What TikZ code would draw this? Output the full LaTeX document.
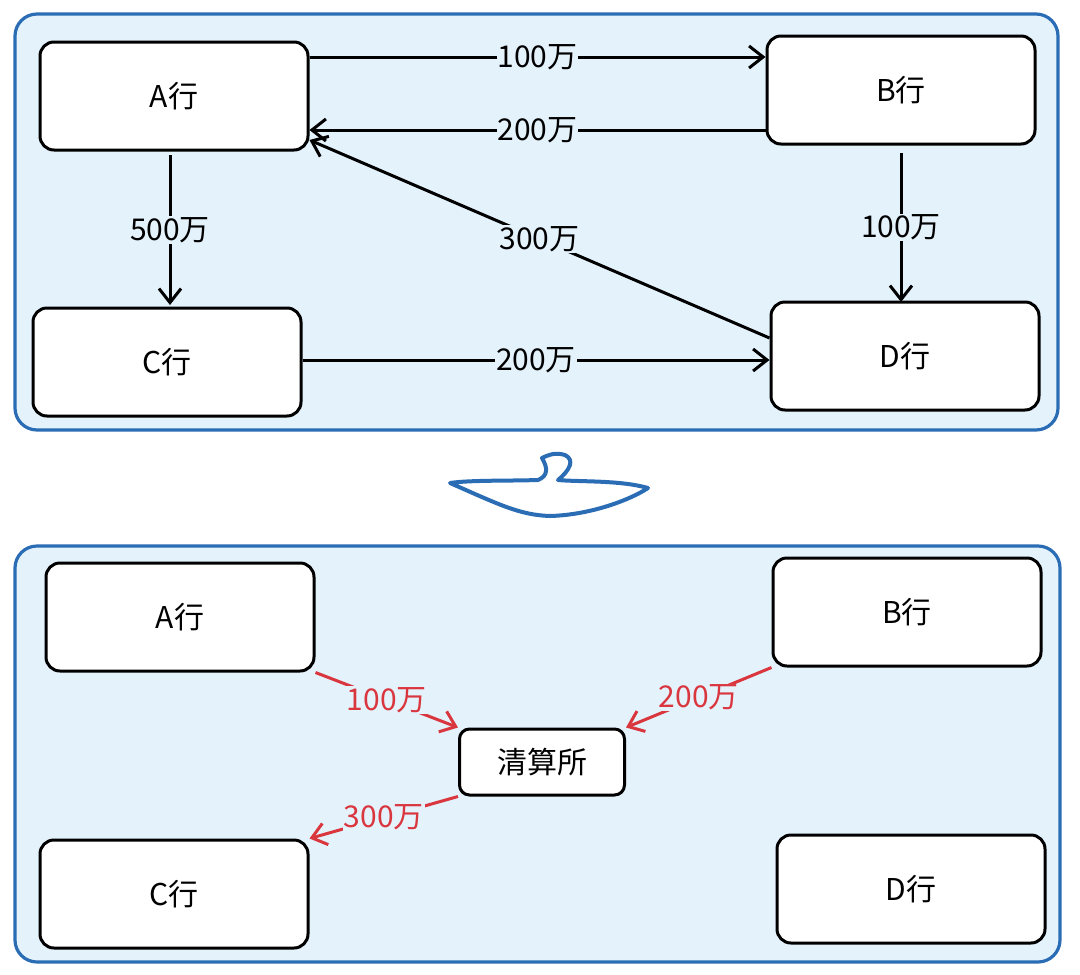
\documentclass[tikz,border=0pt]{standalone}
\usepackage{fontspec}
\setmainfont{Noto Sans CJK SC}
\usetikzlibrary{arrows.meta}
\definecolor{pbl}{HTML}{2A6DB5}
\definecolor{pfill}{HTML}{E4F2FC}
\definecolor{rd}{HTML}{D9363E}
\begin{document}
\begin{tikzpicture}[x=1pt,y=-1pt,
  panel/.style={draw=pbl,line width=3.2pt,fill=pfill,rounded corners=22pt},
  box/.style={draw=black,line width=3pt,fill=white,rounded corners=14pt,minimum width=268pt,minimum height=108pt,font=\fontsize{30}{34}\selectfont},
  cbox/.style={draw=black,line width=3pt,fill=white,rounded corners=10pt,minimum width=165pt,minimum height=66pt,font=\fontsize{30}{34}\selectfont},
  arr/.style={draw=black,line width=3pt,-{Straight Barb[length=14pt,width=22pt,line width=3pt]}},
  rarr/.style={draw=rd,line width=3pt,-{Straight Barb[length=14pt,width=22pt,line width=3pt]}},
  lab/.style={fill=pfill,inner sep=1pt,font=\fontsize{30}{34}\selectfont},
  rlab/.style={fill=pfill,inner sep=1pt,text=rd,font=\fontsize{30}{34}\selectfont}]
\useasboundingbox (0,0) rectangle (1080,975);
\fill[white] (0,0) rectangle (1080,975);
% top panel
\draw[panel] (15,14) rectangle (1058,430);
\node[box] (A) at (174,96) {A行};
\node[box] (B) at (901,90) {B行};
\node[box] (C) at (167,362) {C行};
\node[box] (D) at (905,356) {D行};
\draw[arr] (A.east|-0,57) -- node[lab]{100万} (B.west|-0,57);
\draw[arr] (B.west|-0,130) -- node[lab]{200万} (A.east|-0,130);
\draw[arr] (170,155) -- node[lab]{500万} (170,305);
\draw[arr] (901,153) -- node[lab]{100万} (901,302);
\draw[arr] (D.west|-0,338) -- node[lab,pos=0.5]{300万} (A.east|-0,140);
\draw[arr] (C.east|-0,360) -- node[lab]{200万} (D.west|-0,360);
% transition arrow
\draw[pbl,line width=4pt,line join=round] (450,483) .. controls (500,505) and (520,515) .. (550,516)
  .. controls (590,515) and (630,500) .. (648,488)
  .. controls (620,480) and (580,482) .. (558,480)
  .. controls (570,470) and (575,460) .. (565,455)
  .. controls (555,452) and (548,455) .. (542,458)
  .. controls (548,468) and (548,476) .. (538,480)
  .. controls (510,481) and (470,480) .. cycle;
% bottom panel
\draw[panel] (15,546) rectangle (1060,962);
\node[box] (A2) at (180,617) {A行};
\node[box] (B2) at (907,612) {B行};
\node[box] (C2) at (174,894) {C行};
\node[box] (D2) at (911,889) {D行};
\node[cbox] (K) at (542,762) {清算所};
\draw[rarr] (A2.south east) -- node[rlab]{100万} (K.north west);
\draw[rarr] (B2.south west) -- node[rlab]{200万} (K.north east);
\draw[rarr] (K.south west) -- node[rlab]{300万} (C2.north east);
\end{tikzpicture}
\end{document}
